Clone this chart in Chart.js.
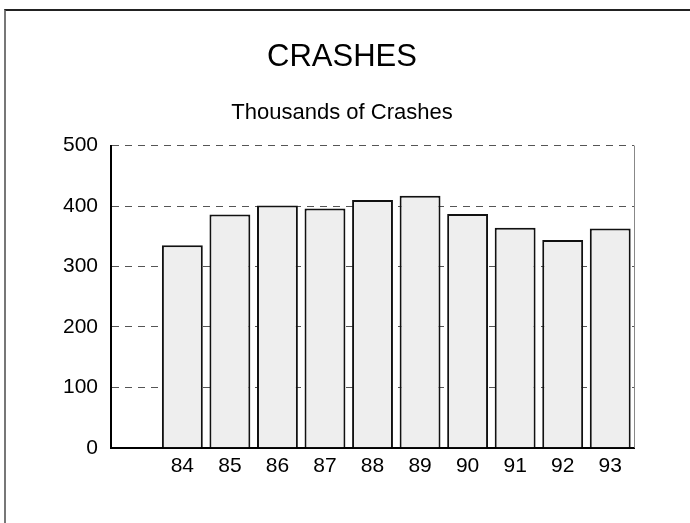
<!DOCTYPE html>
<html>
<head>
<meta charset="utf-8">
<script src="https://cdn.jsdelivr.net/npm/chart.js@4/dist/chart.umd.min.js"></script>
<style>
  html, body { margin: 0; padding: 0; background: #fff; }
  #wrap { position: relative; width: 690px; height: 523px; overflow: hidden; }
  #frame {
    position: absolute; left: 4px; top: 9px; width: 800px; height: 600px;
    border-top: 2px solid #222; border-left: 2px solid #777;
  }
  canvas { position: absolute; left: 0; top: 0; }
</style>
</head>
<body>
<div id="wrap">
  <div id="frame"></div>
  <canvas id="chart" width="690" height="523"></canvas>
</div>
<script>
// data (thousands of crashes per year)
const years = ["", "84", "85", "86", "87", "88", "89", "90", "91", "92", "93"];
const crashes = [null, 335, 386, 401, 396, 410, 417, 387, 364, 344, 363];
const yTicks = [0, 100, 200, 300, 400, 500];

const font = "'Liberation Sans', Arial, Helvetica, sans-serif";

// thin grey line on the right side of the plot area
const rightEdge = {
  id: "rightEdge",
  afterDatasetsDraw(chart) {
    const { ctx, chartArea } = chart;
    ctx.save();
    ctx.strokeStyle = "#888";
    ctx.lineWidth = 1;
    ctx.beginPath();
    ctx.moveTo(chartArea.right + 0.5, chartArea.top);
    ctx.lineTo(chartArea.right + 0.5, chartArea.bottom);
    ctx.stroke();
    ctx.restore();
  }
};

new Chart(document.getElementById("chart"), {
  type: "bar",
  data: {
    labels: years,
    datasets: [
      {
        label: "Crashes",
        data: crashes,
        backgroundColor: "#eeeeee",
        borderColor: "#111",
        borderWidth: 2,
        barPercentage: 0.86,
        categoryPercentage: 1,
      },
    ],
  },
  options: {
    responsive: false,
    animation: false,
    layout: {
      padding: { left: 50, right: 56, top: 0, bottom: 38 }
    },
    plugins: {
      legend: { display: false },
      tooltip: { enabled: false },
      title: {
        display: true,
        text: "CRASHES",
        color: "#000",
        font: { family: font, size: 31, weight: "normal", lineHeight: 1.2 },
        padding: { top: 39, bottom: 0 }
      },
      subtitle: {
        display: true,
        text: "Thousands of Crashes",
        color: "#000",
        font: { family: font, size: 22, weight: "normal", lineHeight: 1.2 },
        padding: { top: 24, bottom: 19 }
      }
    },
    scales: {
      x: {
        grid: { display: false, drawTicks: false },
        border: { display: true, color: "#000", width: 2 },
        ticks: {
          color: "#000",
          padding: 6,
          maxRotation: 0,
          font: { family: font, size: 21 }
        }
      },
      y: {
        min: 0,
        max: 500,
        afterBuildTicks(axis) {
          axis.ticks = yTicks.map(v => ({ value: v }));
        },
        grid: { color: "#555", lineWidth: 1, drawTicks: false },
        border: { display: true, color: "#000", width: 2, dash: [7, 6] },
        ticks: {
          color: "#000",
          padding: 13,
          font: { family: font, size: 21 }
        }
      }
    }
  },
  plugins: [rightEdge]
});
</script>
</body>
</html>
